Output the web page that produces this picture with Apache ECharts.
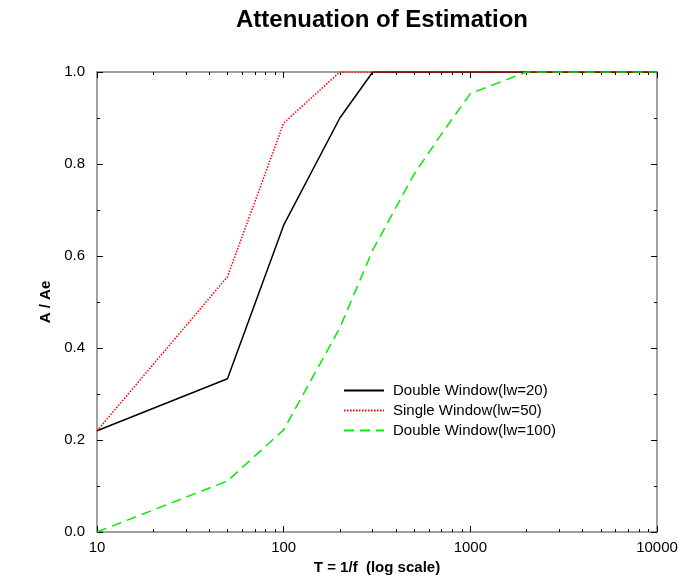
<!DOCTYPE html>
<html>
<head>
<meta charset="utf-8">
<script src="https://cdn.jsdelivr.net/npm/echarts@6/dist/echarts.min.js"></script>
<style>
  html, body { margin: 0; padding: 0; background: #fff; }
  #chart { width: 682px; height: 583px; }
</style>
</head>
<body>
<div id="chart"></div>
<script>
// periods T (log scale) and the ratio A / Ae
const periods = [10, 50, 100, 200, 300, 500, 700, 1000, 2000, 10000];
const dw20 = [0.22, 0.333, 0.667, 0.9, 1.0, 1.0, 1.0, 1.0, 1.0, 1.0];
const sw50 = [0.22, 0.555, 0.889, 1.0, 1.0, 1.0, 1.0, 1.0, 1.0, 1.0];
const dw100 = [0.0, 0.111, 0.222, 0.444, 0.613, 0.778, 0.865, 0.953, 1.0, 1.0];

const seriesNames = ['Double Window(lw=20)', 'Single Window(lw=50)', 'Double Window(lw=100)'];
const majorX = [10, 100, 1000, 10000];
const minorX = [20, 30, 40, 50, 60, 70, 80, 90, 200, 300, 400, 500, 600, 700, 800, 900,
  2000, 3000, 4000, 5000, 6000, 7000, 8000, 9000];

const font = 'Liberation Sans, Arial, sans-serif';

function pairs(ys) {
  return periods.map((x, i) => [x, ys[i]]);
}

// one log axis per side; the minor ticks sit on an overlapping axis
function logAxis(pos, ticks, len, withLine, withLabel) {
  return {
    type: 'log',
    logBase: 10,
    min: 10,
    max: 10000,
    position: pos,
    axisLine: { show: withLine, onZero: false, lineStyle: { color: '#808080', width: 1.5 } },
    axisTick: { show: true, inside: true, length: len, customValues: ticks, lineStyle: { color: '#000', width: 1 } },
    axisLabel: {
      show: withLabel, customValues: majorX, margin: 8,
      color: '#000', fontSize: 15, fontFamily: font,
      formatter: v => String(Math.round(v))
    },
    splitLine: { show: false },
    minorTick: { show: false }
  };
}

function valAxis(pos, withLabel) {
  return {
    type: 'value',
    min: 0,
    max: 1,
    interval: 0.2,
    position: pos,
    axisLine: { show: true, onZero: false, lineStyle: { color: '#808080', width: 1.5 } },
    axisTick: { show: true, inside: true, length: 6, lineStyle: { color: '#000', width: 1 } },
    minorTick: { show: true, splitNumber: 2, length: 3, lineStyle: { color: '#000', width: 1 } },
    axisLabel: {
      show: withLabel, margin: 12, color: '#000', fontSize: 15, fontFamily: font,
      formatter: v => v.toFixed(1)
    },
    splitLine: { show: false }
  };
}

const xBottom = logAxis('bottom', majorX, 6, true, true);
xBottom.name = 'T = 1/f  (log scale)';
xBottom.nameLocation = 'middle';
xBottom.nameGap = 25;
xBottom.nameTextStyle = { color: '#000', fontSize: 15, fontWeight: 'bold', fontFamily: font };

const yLeft = valAxis('left', true);
yLeft.name = 'A / Ae';
yLeft.nameLocation = 'middle';
yLeft.nameGap = 44;
yLeft.nameTextStyle = { color: '#000', fontSize: 15, fontWeight: 'bold', fontFamily: font };

const option = {
  backgroundColor: '#fff',
  animation: false,
  title: {
    text: 'Attenuation of Estimation',
    left: 377,
    top: 3,
    textAlign: 'center',
    textStyle: { color: '#000', fontSize: 24, fontWeight: 'bold', fontFamily: font }
  },
  grid: { left: 97, right: 25, top: 72, bottom: 51 },
  legend: {
    orient: 'vertical',
    left: 338,
    top: 378,
    itemWidth: 40,
    itemHeight: 14,
    itemGap: 5,
    data: seriesNames,
    itemStyle: { opacity: 0 },
    textStyle: { color: '#000', fontSize: 15, fontFamily: font, padding: [0, 0, 0, 4] }
  },
  xAxis: [
    xBottom,
    logAxis('bottom', minorX, 3, false, false),
    logAxis('top', majorX, 6, true, false),
    logAxis('top', minorX, 3, false, false)
  ],
  yAxis: [yLeft, valAxis('right', false)],
  series: [
    {
      name: seriesNames[0], type: 'line', data: pairs(dw20), symbol: 'none',
      lineStyle: { color: '#000', width: 1.5 }, itemStyle: { color: '#000' }
    },
    {
      name: seriesNames[1], type: 'line', data: pairs(sw50), symbol: 'none',
      lineStyle: { color: '#ff0000', width: 1.5, type: [1.5, 1.5] }, itemStyle: { color: '#ff0000' }
    },
    {
      name: seriesNames[2], type: 'line', data: pairs(dw100), symbol: 'none',
      lineStyle: { color: '#00ee00', width: 1.5, type: [10, 6] }, itemStyle: { color: '#00ee00' }
    }
  ]
};

const myChart = echarts.init(document.getElementById('chart'));
myChart.setOption(option, true);
</script>
</body>
</html>
